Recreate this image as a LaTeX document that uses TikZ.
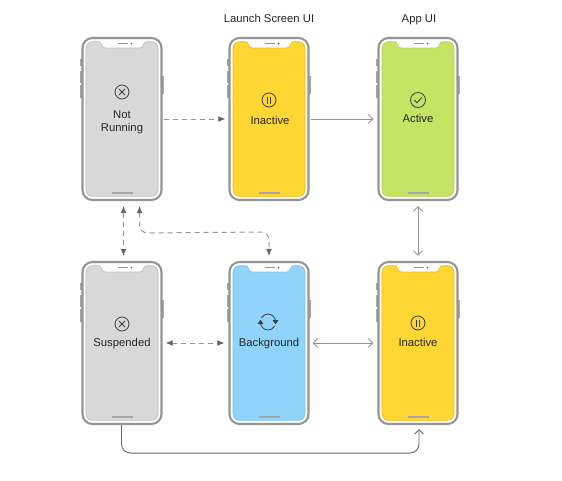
\documentclass[tikz,border=0pt]{standalone}
\usepackage{fontspec}
\setmainfont{Liberation Sans}
\usetikzlibrary{arrows.meta,calc}
\definecolor{framegray}{HTML}{949494}
\definecolor{btngray}{HTML}{A6A6A6}
\definecolor{arrowgray}{HTML}{959595}
\definecolor{tipgray}{HTML}{666666}
\definecolor{icongray}{HTML}{3C3C3C}
\definecolor{scrgray}{HTML}{D9D9D9}\definecolor{edgegray}{HTML}{BDBDBD}
\definecolor{scryellow}{HTML}{FFD735}\definecolor{edgeyellow}{HTML}{F7B500}
\definecolor{scrgreen}{HTML}{C6E463}\definecolor{edgegreen}{HTML}{B4D455}
\definecolor{scrblue}{HTML}{90D4FB}\definecolor{edgeblue}{HTML}{78C4F0}
\tikzset{
  x=1pt,y=-1pt,
  phonebody/.style={draw=framegray,line width=2.1pt,fill=white,rounded corners=10pt,minimum width=79pt,minimum height=162pt,inner sep=0pt},
  btn/.style={fill=btngray,draw=none},
  lbl/.style={font=\fontsize{11.3}{13.2}\selectfont,text=black!85,align=center,inner sep=0pt},
  baselbl/.style={lbl,anchor=base},
  solidarrow/.style={draw=arrowgray,line width=1pt,{Straight Barb[length=4.5pt,width=9pt,line width=1pt]}-{Straight Barb[length=4.5pt,width=9pt,line width=1pt]}},
  solidone/.style={draw=arrowgray,line width=1pt,-{Straight Barb[length=4.5pt,width=9pt,line width=1pt]}},
  dasharrow/.style={draw=arrowgray,line width=1pt,dash pattern=on 5pt off 4pt,-{Latex[length=7pt,width=6pt,color=tipgray]}},
  dashboth/.style={draw=arrowgray,line width=1pt,dash pattern=on 5pt off 4pt,{Latex[length=7pt,width=6pt,color=tipgray]}-{Latex[length=7pt,width=6pt,color=tipgray]}},
  darkarrow/.style={draw=tipgray,line width=0.9pt,rounded corners=9pt,-{Straight Barb[length=4.5pt,width=9pt,line width=0.9pt]}},
  iconline/.style={draw=icongray,line width=0.8pt},
}
% #1 name, #2 left x, #3 top y, #4 screen, #5 edge
\newcommand{\phonedraw}[5]{%
  \begin{scope}[shift={(#2,#3)}]
    \fill[btn] (-2.6,21) rectangle (0,28);
    \fill[btn] (-2.6,33) rectangle (0,45);
    \fill[btn] (-2.6,47) rectangle (0,60);
    \fill[btn] (79,38) rectangle (81.8,56);
    \node[phonebody] (#1) at (39.5,81) {};
    \draw[fill=#4,draw=#5,line width=0.6pt]
      (10,3.7) -- (16,3.7) .. controls (18,3.7) and (18.5,5) .. (19,6.5)
      .. controls (19.5,8.5) and (20.5,10) .. (23,10) -- (57,10)
      .. controls (59.5,10) and (60.5,8.5) .. (61,6.5)
      .. controls (61.5,5) and (62,3.7) .. (64,3.7) -- (69,3.7)
      .. controls (73,3.7) and (75.5,6.5) .. (75.5,11) -- (75.5,151)
      .. controls (75.5,155.5) and (73,158.3) .. (69,158.3) -- (10,158.3)
      .. controls (6,158.3) and (3.5,155.5) .. (3.5,151) -- (3.5,11)
      .. controls (3.5,6.5) and (6,3.7) .. (10,3.7) -- cycle;
    \draw[draw=framegray,line width=0.9pt] (35.5,5.5) -- (45,5.5);
    \fill[icongray!80] (49,5.5) circle (1);
    \draw[draw=btngray,line width=1.2pt] (29,155) -- (50,155);
  \end{scope}}
\newcommand{\xicon}[2]{%
  \draw[iconline] (#1,#2) circle (7);
  \draw[iconline] (#1-3,#2-3) -- (#1+3,#2+3) (#1+3,#2-3) -- (#1-3,#2+3);}
\newcommand{\pauseicon}[2]{%
  \draw[iconline] (#1,#2) circle (7);
  \draw[iconline] (#1-1.6,#2-3.5) -- (#1-1.6,#2+3.5) (#1+1.6,#2-3.5) -- (#1+1.6,#2+3.5);}
\newcommand{\checkicon}[2]{%
  \draw[iconline] (#1,#2) circle (7.5);
  \draw[iconline] (#1-3.5,#2+0.2) -- (#1-1,#2+2.7) -- (#1+3.8,#2-2.5);}
\newcommand{\syncicon}[2]{%
  \draw[iconline] (#1-7.5,#2+0.5) arc[start angle=180,end angle=30,x radius=7.5pt,y radius=-7.5pt];
  \draw[iconline] (#1+7.5,#2-0.5) arc[start angle=0,end angle=-150,x radius=7.5pt,y radius=-7.5pt];
  \fill[icongray] (#1+4.5,#2-2) -- (#1+10.5,#2-2) -- (#1+7.5,#2+2.2) -- cycle;
  \fill[icongray] (#1-4.5,#2+2) -- (#1-10.5,#2+2) -- (#1-7.5,#2-2.2) -- cycle;}
\begin{document}
\begin{tikzpicture}
\useasboundingbox (0,0) rectangle (562,480);
\phonedraw{notrun}{82.5}{38}{scrgray}{edgegray}
\phonedraw{launch}{229.5}{38}{scryellow}{edgeyellow}
\phonedraw{active}{378.5}{38}{scrgreen}{edgegreen}
\phonedraw{susp}{82.5}{262}{scrgray}{edgegray}
\phonedraw{back}{229.5}{262}{scrblue}{edgeblue}
\phonedraw{inact}{378.5}{262}{scryellow}{edgeyellow}
\node[baselbl] (toplaunch) at (269,22) {Launch Screen UI};
\node[baselbl] (topapp) at (419,22) {App UI};
\xicon{122}{92}
\node[lbl] (lnotrun) at (122,122) {Not\\Running};
\pauseicon{269}{100}
\node[baselbl] (llaunch) at (270,124) {Inactive};
\checkicon{418}{100}
\node[baselbl] (lactive) at (418,122.5) {Active};
\xicon{122}{324}
\node[baselbl] (lsusp) at (122,346.5) {Suspended};
\syncicon{268}{322}
\node[baselbl] (lback) at (269,346.5) {Background};
\pauseicon{418}{323}
\node[baselbl] (linact) at (418,346.5) {Inactive};
% connectors
\draw[dasharrow] ([xshift=1pt]notrun.east) -- ([xshift=-3pt]launch.west);
\draw[solidone] ([xshift=1pt]launch.east) -- ([xshift=-4pt]active.west);
\draw[solidarrow] ([yshift=-5pt]active.south) -- ([yshift=5pt]inact.north);
\draw[dashboth] ([xshift=1.5pt,yshift=-5pt]notrun.south) -- ([xshift=1.5pt,yshift=5pt]susp.north);
\draw[dashboth] ([xshift=3pt]susp.east) -- ([xshift=-4pt]back.west);
\draw[solidarrow] ([xshift=3pt]back.east) -- ([xshift=-4pt]inact.west);
\coordinate (bendA) at ([xshift=17.5pt,yshift=-32pt]notrun.south);
\coordinate (bendB) at ([yshift=29pt]back.north);
\draw[dasharrow,{Latex[length=7pt,width=6pt,color=tipgray]}-{Latex[length=7pt,width=6pt,color=tipgray]},rounded corners=8pt]
  ([xshift=17.5pt,yshift=-5pt]notrun.south) -- (bendA) -- (bendB) -- ([yshift=5pt]back.north);
\coordinate (lowA) at ([xshift=-0.5pt,yshift=-28pt]susp.south);
\coordinate (lowB) at ([xshift=1pt,yshift=-28pt]inact.south);
\draw[darkarrow] ([xshift=-0.5pt]susp.south) -- (lowA) -- (lowB) -- ([xshift=1pt,yshift=-4pt]inact.south);
\end{tikzpicture}
\end{document}
